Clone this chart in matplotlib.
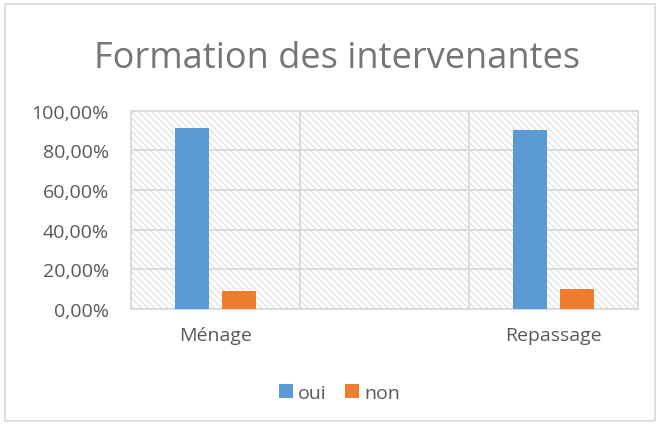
import matplotlib.pyplot as plt
from matplotlib.patches import Rectangle
from matplotlib.ticker import FuncFormatter

categories = ["Ménage", "", "Repassage"]
oui = [0.914, None, 0.904]
non = [0.089, None, 0.101]
series_names = ["oui", "non"]

blue = "#5b9bd5"
orange = "#ed7d31"
grey_text = "#595959"
grid_col = "#d9d9d9"

plt.rcParams['font.family'] = ['Open Sans', 'DejaVu Sans']
plt.rcParams['hatch.linewidth'] = 0.8

fig = plt.figure(figsize=(6.59, 4.27), dpi=100)
ax = fig.add_axes([0.199, 0.274, 0.769, 0.464])

# hatched plot-area background
bg = Rectangle((0, 0), 1, 1, transform=ax.transAxes, facecolor="white",
               edgecolor="#dcdcdc", linewidth=0, hatch="\\\\\\\\\\", zorder=0)
ax.add_patch(bg)

x = list(range(len(categories)))
w = 0.2
xo = [i for i, v in zip(x, oui) if v is not None]
vo = [v for v in oui if v is not None]
xn = [i for i, v in zip(x, non) if v is not None]
vn = [v for v in non if v is not None]
ax.bar([i - 0.14 for i in xo], vo, w, color=blue, label=series_names[0], zorder=3)
ax.bar([i + 0.14 for i in xn], vn, w, color=orange, label=series_names[1], zorder=3)

ax.set_xlim(-0.5, len(categories) - 0.5)
ax.set_ylim(0, 1.0)
ax.set_yticks([0, 0.2, 0.4, 0.6, 0.8, 1.0])
ax.yaxis.set_major_formatter(FuncFormatter(lambda v, p: ("%.2f%%" % (v * 100)).replace(".", ",")))
ax.set_xticks(x)
ax.set_xticklabels(categories)
ax.set_xticks([0.5, 1.5], minor=True)

ax.grid(axis="y", which="major", color=grid_col, linewidth=1.3, zorder=1)
ax.grid(axis="x", which="minor", color=grid_col, linewidth=1.3, zorder=1)
for s in ax.spines.values():
    s.set_color(grid_col)
    s.set_linewidth(1.3)
ax.tick_params(axis="both", which="both", length=0, colors=grey_text, labelsize=14)
ax.tick_params(axis="x", pad=12)
ax.tick_params(axis="y", pad=16)

fig.text(0.512, 0.862, "Formation des intervenantes", ha="center", va="center",
         fontsize=26, color="#757575")

ax.legend(loc="center", bbox_to_anchor=(0.515, 0.078), bbox_transform=fig.transFigure,
          ncol=2, frameon=False, fontsize=14, labelcolor=grey_text,
          handlelength=0.7, handleheight=0.7, handletextpad=0.25, columnspacing=1.0)

# chart border
fig.patches.append(Rectangle((5 / 659, 5 / 427), 650 / 659, 417 / 427, transform=fig.transFigure,
                             fill=False, edgecolor="#d9d9d9", linewidth=1.2))

fig.savefig("out.png", dpi=100)
